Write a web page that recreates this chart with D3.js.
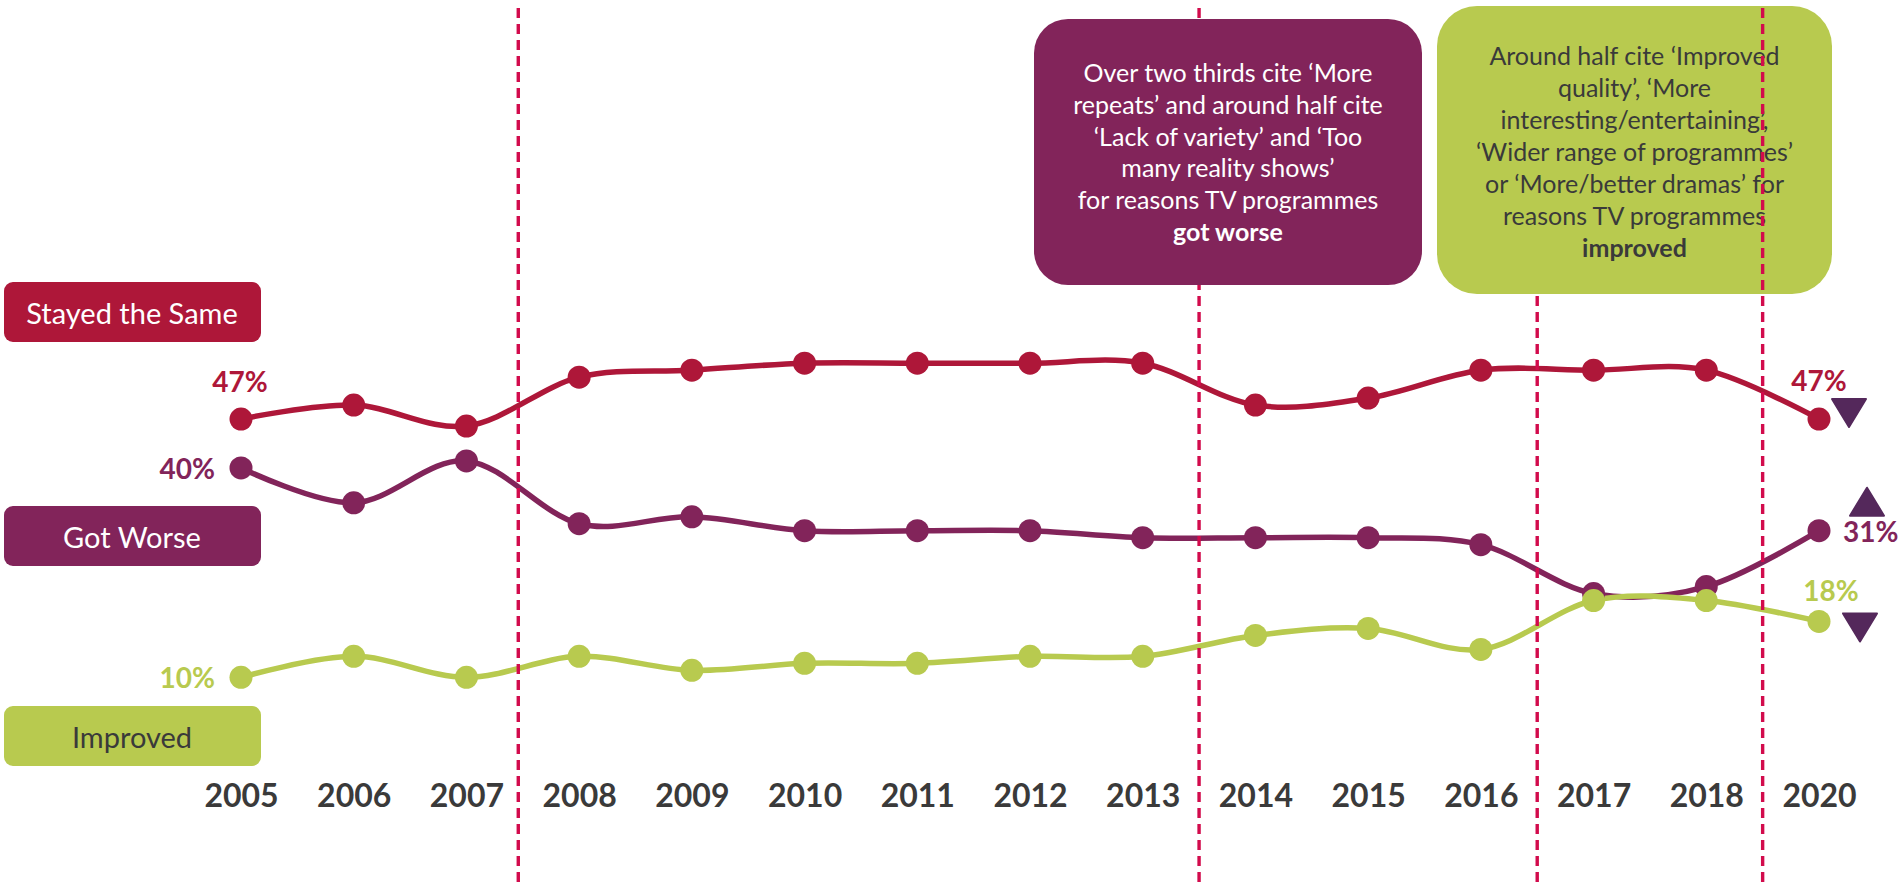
<!DOCTYPE html>
<html>
<head>
<meta charset="utf-8">
<script src="https://cdn.jsdelivr.net/npm/d3@7"></script>
<style>
  html, body { margin: 0; padding: 0; background: #ffffff; }
  svg { display: block; }
  text { font-family: Lato, "Open Sans", sans-serif; }
</style>
</head>
<body>
<svg id="chart" width="1899" height="883"></svg>
<script>
// Survey years (2019 was not surveyed)
const years = ["2005", "2006", "2007", "2008", "2009", "2010", "2011", "2012",
               "2013", "2014", "2015", "2016", "2017", "2018", "2020"];

// Share of respondents (%) per answer
const stayedSame = [47, 49, 46, 53, 54, 55, 55, 55, 55, 49, 50, 54, 54, 54, 47];
const gotWorse   = [40, 35, 41, 32, 33, 31, 31, 31, 30, 30, 30, 29, 22, 23, 31];
const improved   = [10, 13, 10, 13, 11, 12, 12, 13, 13, 16, 17, 14, 21, 21, 18];

const seriesNames = ["Stayed the Same", "Got Worse", "Improved"];

// Methodology breaks, drawn between these pairs of survey years
const breakAfter = ["2007", "2013", "2016", "2018"];

// Direction of the significant change in the latest year
const changeDirection = ["down", "up", "down"];

const worseReasons = [
  "Over two thirds cite \u2018More",
  "repeats\u2019 and around half cite",
  "\u2018Lack of variety\u2019 and \u2018Too",
  "many reality shows\u2019",
  "for reasons TV programmes",
  "got worse"
];
const improvedReasons = [
  "Around half cite \u2018Improved",
  "quality\u2019, \u2018More",
  "interesting/entertaining\u2019,",
  "\u2018Wider range of programmes\u2019",
  "or \u2018More/better dramas\u2019 for",
  "reasons TV programmes",
  "improved"
];

const colors = ["#ae1739", "#82245a", "#b8ca4f"];
const labelText = ["#ffffff", "#ffffff", "#3a3a3a"];
const breakColor = "#d20b4c";
const arrowColor = "#54285b";

const svg = d3.select("#chart");

const x = d3.scalePoint().domain(years).range([241, 1819]);
const y = d3.scaleLinear().domain([0, 60]).range([747.1, 328.3]);
const step = x.step();

const series = [stayedSame, gotWorse, improved].map((vals, i) => ({
  name: seriesNames[i],
  color: colors[i],
  points: vals.map((v, j) => ({ year: years[j], value: v }))
}));

// Dashed break lines
const breakX = (yr, k) => x(yr) + step * (k === 0 ? 0.46 : 0.5);
function drawBreak(g, yr, k) {
  g.append("line")
    .attr("x1", breakX(yr, k)).attr("x2", breakX(yr, k))
    .attr("y1", 8).attr("y2", 883)
    .attr("stroke", breakColor)
    .attr("stroke-width", 3.4)
    .attr("stroke-dasharray", "10,6");
}

// Lines and markers
const line = d3.line()
  .x(d => x(d.year))
  .y(d => y(d.value))
  .curve(d3.curveCardinal.tension(0));

const gSeries = svg.append("g");
series.forEach(s => {
  gSeries.append("path")
    .attr("d", line(s.points))
    .attr("fill", "none")
    .attr("stroke", s.color)
    .attr("stroke-width", 5.5)
    .attr("stroke-linejoin", "round");
});
series.forEach(s => {
  gSeries.selectAll(null)
    .data(s.points)
    .join("circle")
    .attr("cx", d => x(d.year))
    .attr("cy", d => y(d.value))
    .attr("r", 11.5)
    .attr("fill", s.color);
});

// First three break lines sit under the annotation boxes
const gBreaksUnder = svg.append("g");
breakAfter.slice(0, 3).forEach((yr, k) => drawBreak(gBreaksUnder, yr, k));

// Annotation boxes
function noteBox(x0, y0, w, h, r, fill, textColor, lines, firstBaseline, lh) {
  const g = svg.append("g");
  g.append("rect")
    .attr("x", x0).attr("y", y0).attr("width", w).attr("height", h)
    .attr("rx", r).attr("ry", r)
    .attr("fill", fill);
  g.selectAll(null)
    .data(lines)
    .join("text")
    .attr("x", x0 + w / 2)
    .attr("y", (d, i) => firstBaseline + i * lh)
    .attr("text-anchor", "middle")
    .attr("fill", textColor)
    .attr("font-size", 25)
    .attr("font-weight", (d, i) => i === lines.length - 1 ? 700 : 400)
    .text(d => d);
}
noteBox(1034, 19, 388, 266, 34, colors[1], "#ffffff", worseReasons, 82, 31.8);
noteBox(1437, 6, 395, 288, 40, colors[2], "#3a3a3a", improvedReasons, 64.5, 32);

// Last break line runs over the green box
const gBreaksOver = svg.append("g");
drawBreak(gBreaksOver, breakAfter[3], 3);

// Series name tags on the left
const tagTops = [282, 506, 706];
const gTags = svg.append("g");
series.forEach((s, i) => {
  gTags.append("rect")
    .attr("x", 4).attr("y", tagTops[i])
    .attr("width", 257).attr("height", 60)
    .attr("rx", 9).attr("ry", 9)
    .attr("fill", s.color);
  gTags.append("text")
    .attr("x", 132).attr("y", tagTops[i] + 41.5)
    .attr("text-anchor", "middle")
    .attr("fill", labelText[i])
    .attr("font-size", 29)
    .text(s.name);
});

// Value labels at both ends of each line
const endLabels = [
  { s: 0, idx: 0,  anchor: "middle", dx: -1,  dy: -27 },
  { s: 1, idx: 0,  anchor: "end",    dx: -26, dy: 11 },
  { s: 2, idx: 0,  anchor: "end",    dx: -26, dy: 11 },
  { s: 0, idx: 14, anchor: "middle", dx: 0,   dy: -28 },
  { s: 1, idx: 14, anchor: "start",  dx: 24,  dy: 11 },
  { s: 2, idx: 14, anchor: "middle", dx: 12,  dy: -20 }
];
svg.append("g").selectAll("text")
  .data(endLabels)
  .join("text")
  .attr("x", d => x(years[d.idx]) + d.dx)
  .attr("y", d => y(series[d.s].points[d.idx].value) + d.dy)
  .attr("text-anchor", d => d.anchor)
  .attr("fill", d => colors[d.s])
  .attr("font-size", 28)
  .attr("font-weight", 700)
  .text(d => series[d.s].points[d.idx].value + "%");

// Change arrows beside the 2020 values
const arrowPlace = [
  { dx: 30, top: -20 },
  { dx: 48, top: -43 },
  { dx: 41, top: -8 }
];
const gArrows = svg.append("g");
changeDirection.forEach((dir, i) => {
  const last = series[i].points[series[i].points.length - 1];
  const cx = x(last.year) + arrowPlace[i].dx;
  const t = y(last.value) + arrowPlace[i].top;
  const w = 34, h = 28;
  const p = d3.path();
  if (dir === "down") {
    p.moveTo(cx - w / 2, t); p.lineTo(cx + w / 2, t); p.lineTo(cx, t + h);
  } else {
    p.moveTo(cx, t); p.lineTo(cx + w / 2, t + h); p.lineTo(cx - w / 2, t + h);
  }
  p.closePath();
  gArrows.append("path")
    .attr("d", p.toString())
    .attr("fill", arrowColor)
    .attr("stroke", arrowColor)
    .attr("stroke-width", 2)
    .attr("stroke-linejoin", "round");
});

// Year axis
const axisG = svg.append("g")
  .attr("transform", "translate(0,807)")
  .call(d3.axisBottom(x).tickSize(0).tickPadding(0));
axisG.select(".domain").remove();
axisG.selectAll("text")
  .attr("y", 0)
  .attr("dy", 0)
  .attr("fill", "#3a3a3a")
  .attr("font-size", 32)
  .attr("font-weight", 700)
  .attr("font-family", "Lato, 'Open Sans', sans-serif");
</script>
</body>
</html>
